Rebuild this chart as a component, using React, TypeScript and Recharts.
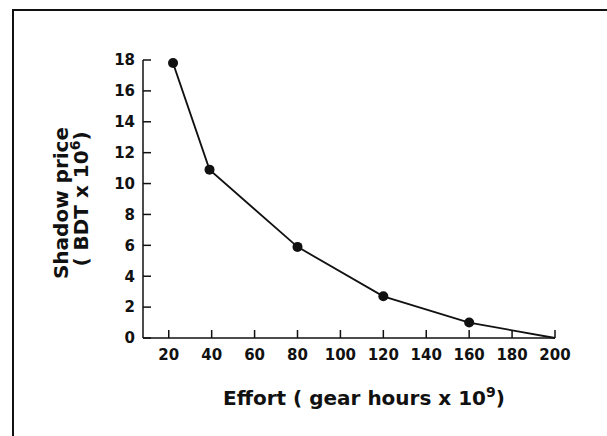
import { LineChart, Line, XAxis, YAxis } from 'recharts';

const effort = [22, 39, 80, 120, 160, 200];
const shadowPrice = [17.8, 10.9, 5.9, 2.7, 1.0, 0];
const xTicks = [20, 40, 60, 80, 100, 120, 140, 160, 180, 200];
const yTicks = [0, 2, 4, 6, 8, 10, 12, 14, 16, 18];

const data = effort.map((x, i) => ({ effort: x, price: shadowPrice[i] }));

const ink = '#111';
const font = 'DejaVu Sans, sans-serif';

const YTitle = () => (
  <g fontFamily={font} fontWeight='bold' fontSize={20} fill={ink}>
    <text x={68} y={203} transform='rotate(-90 68 203)' textAnchor='middle'>
      Shadow price
    </text>
    <text x={88} y={199} transform='rotate(-90 88 199)' textAnchor='middle'>
      ( BDT x 10<tspan dy={-8} fontSize={14}>6</tspan>
      <tspan dy={8}>)</tspan>
    </text>
  </g>
);

const XTitle = () => (
  <text x={364} y={405} textAnchor='middle' fontFamily={font} fontWeight='bold' fontSize={20} fill={ink}>
    Effort ( gear hours x 10<tspan dy={-8} fontSize={14}>9</tspan>
    <tspan dy={8}>)</tspan>
  </text>
);

const renderDot = (props: any) => {
  const { cx, cy, index } = props;
  if (index === data.length - 1) return <g key={`d${index}`} />;
  return <circle key={`d${index}`} cx={cx} cy={cy} r={5} fill={ink} stroke='none' />;
};

const tickStyle = { fontFamily: font, fontWeight: 'bold', fontSize: 15, fill: ink };

export default function App() {
  return (
    <div style={{ position: 'absolute', left: 0, top: 0, width: 607, height: 436, background: '#fff' }}>
      <div
        style={{
          position: 'absolute',
          left: 12,
          top: 9,
          width: 595,
          height: 427,
          borderTop: `2px solid ${ink}`,
          borderLeft: `2px solid ${ink}`,
        }}
      />
      <div style={{ position: 'absolute', left: 0, top: 0 }}>
        <LineChart width={607} height={436} data={data} margin={{ top: 60, right: 52, bottom: 58, left: 93 }}>
          <XAxis
            type='number'
            dataKey='effort'
            domain={[8, 200]}
            ticks={xTicks}
            height={40}
            axisLine={{ stroke: ink, strokeWidth: 1.5 }}
            tickLine={{ stroke: ink, strokeWidth: 1.5 }}
            tickSize={-8}
            tickMargin={19}
            tick={tickStyle}
            label={{ content: () => <XTitle /> }}
          />
          <YAxis
            type='number'
            domain={[0, 18]}
            ticks={yTicks}
            width={50}
            axisLine={{ stroke: ink, strokeWidth: 1.5 }}
            tickLine={{ stroke: ink, strokeWidth: 1.5 }}
            tickSize={-8}
            tickMargin={16}
            tick={tickStyle}
            label={{ content: () => <YTitle /> }}
          />
          <Line
            type='linear'
            dataKey='price'
            stroke={ink}
            strokeWidth={1.8}
            dot={renderDot}
            activeDot={false}
            isAnimationActive={false}
          />
        </LineChart>
      </div>
    </div>
  );
}
